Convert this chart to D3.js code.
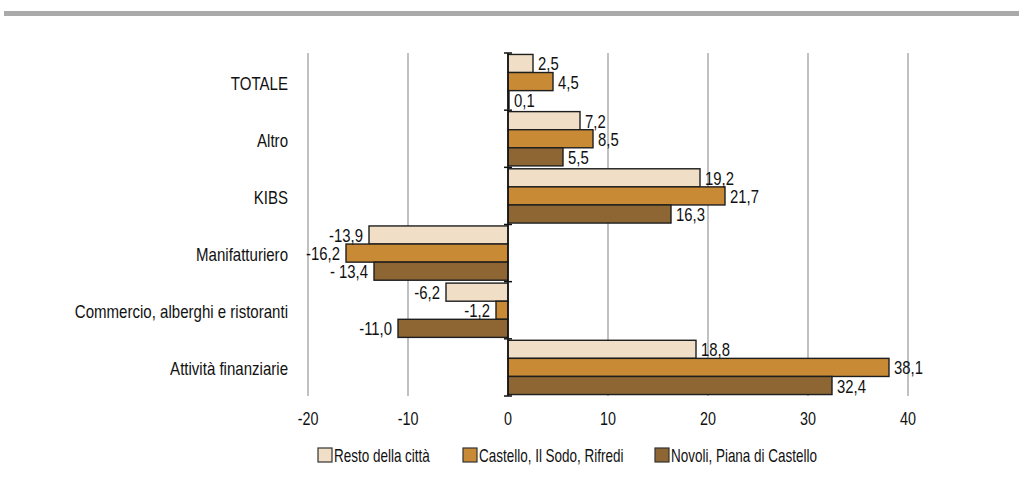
<!DOCTYPE html>
<html>
<head>
<meta charset="utf-8">
<script src="https://cdn.jsdelivr.net/npm/d3@7"></script>
<style>
  html, body { margin: 0; padding: 0; background: #fff; }
  svg { display: block; font-family: "Liberation Sans", Arial, sans-serif; }
</style>
</head>
<body>
<svg id="chart" width="1019" height="488"></svg>
<script>
// Sectors (top to bottom)
const categories = ["TOTALE", "Altro", "KIBS", "Manifatturiero",
  "Commercio, alberghi e ristoranti", "Attività finanziarie"];

// Series names and values (% change)
const seriesNames = ["Resto della città", "Castello, Il Sodo, Rifredi", "Novoli, Piana di Castello"];
const restoCitta   = [2.5, 7.2, 19.2, -13.9, -6.2, 18.8];
const castello     = [4.5, 8.5, 21.7, -16.2, -1.2, 38.1];
const novoli       = [0.1, 5.5, 16.3, -13.4, -11.0, 32.4];

// Label text as printed next to each bar
const restoLabels    = ["2,5", "7,2", "19,2", "-13,9", "-6,2", "18,8"];
const castelloLabels = ["4,5", "8,5", "21,7", "-16,2", "-1,2", "38,1"];
const novoliLabels   = ["0,1", "5,5", "16,3", "- 13,4", "-11,0", "32,4"];

const xTicks = [-20, -10, 0, 10, 20, 30, 40];
const colors = ["#f0dfc6", "#c98a35", "#8d6634"];

const series = [
  { name: seriesNames[0], values: restoCitta, labels: restoLabels },
  { name: seriesNames[1], values: castello, labels: castelloLabels },
  { name: seriesNames[2], values: novoli, labels: novoliLabels }
];

const svg = d3.select("#chart");
const FS = 17.5;

// Narrow-looking text: regular sans squeezed horizontally
function narrowText(sel, fx, fy, sx) {
  return sel.attr("font-size", FS).attr("fill", "#111")
    .attr("transform", (d, i) => `translate(${fx(d, i)},${fy(d, i)}) scale(${sx},1)`);
}

// Top rule
svg.append("rect").attr("x", 4).attr("y", 11).attr("width", 1015).attr("height", 5)
  .attr("fill", "#aaaaaa");

const x = d3.scaleLinear().domain([-20, 40]).range([308, 908]);
const y = d3.scaleBand().domain(categories).range([53, 396]).paddingInner(0).paddingOuter(0);
const yInner = d3.scaleBand().domain(d3.range(series.length))
  .range([0, y.bandwidth()]).paddingInner(0).paddingOuter(0.08);

// Vertical gridlines
svg.append("g").selectAll("line").data(xTicks.filter(d => d !== 0)).join("line")
  .attr("x1", d => x(d)).attr("x2", d => x(d))
  .attr("y1", 53).attr("y2", 396)
  .attr("stroke", "#a0a0a0").attr("stroke-width", 1.3);

// x tick labels
narrowText(svg.append("g").selectAll("text").data(xTicks).join("text"),
    d => x(d), () => 424.5, 0.82)
  .attr("text-anchor", "middle")
  .text(d => d);

// Bars
const gBars = svg.append("g");
series.forEach((s, si) => {
  gBars.append("g").selectAll("rect").data(categories).join("rect")
    .attr("x", (c, i) => x(Math.min(0, s.values[i])))
    .attr("y", c => y(c) + yInner(si))
    .attr("width", (c, i) => Math.abs(x(s.values[i]) - x(0)))
    .attr("height", yInner.bandwidth())
    .attr("fill", colors[si])
    .attr("stroke", "#1e1e1e").attr("stroke-width", 1.4);
});

// Value labels
const gLab = svg.append("g");
series.forEach((s, si) => {
  narrowText(gLab.append("g").selectAll("text").data(categories).join("text"),
      (c, i) => s.values[i] >= 0 ? x(s.values[i]) + 5 : x(s.values[i]) - 6,
      c => y(c) + yInner(si) + yInner.bandwidth() / 2 + 7, 0.85)
    .attr("text-anchor", (c, i) => s.values[i] >= 0 ? "start" : "end")
    .text((c, i) => s.labels[i]);
});

// Zero axis with band tick marks
const gAxis = svg.append("g");
gAxis.append("line").attr("x1", x(0)).attr("x2", x(0)).attr("y1", 53).attr("y2", 396)
  .attr("stroke", "#111").attr("stroke-width", 1.5);
const bounds = categories.map(c => y(c)).concat([y.range()[1]]);
gAxis.selectAll("line.tk").data(bounds).join("line").attr("class", "tk")
  .attr("x1", x(0) - 4).attr("x2", x(0) + 4)
  .attr("y1", d => d).attr("y2", d => d)
  .attr("stroke", "#111").attr("stroke-width", 1.5);

// Category labels
narrowText(svg.append("g").selectAll("text").data(categories).join("text"),
    () => 288, c => y(c) + y.bandwidth() / 2 + 8, 0.86)
  .attr("text-anchor", "end")
  .text(c => c);

// Legend
const legendX = [318, 463, 655];
const lg = svg.append("g");
series.forEach((s, si) => {
  const g = lg.append("g").attr("transform", `translate(${legendX[si]},448)`);
  g.append("rect").attr("width", 14).attr("height", 14)
    .attr("fill", colors[si]).attr("stroke", "#333").attr("stroke-width", 1.2);
  g.append("text").attr("font-size", FS).attr("fill", "#111")
    .attr("transform", "translate(16,13.5) scale(0.77,1)").text(s.name);
});
</script>
</body>
</html>
